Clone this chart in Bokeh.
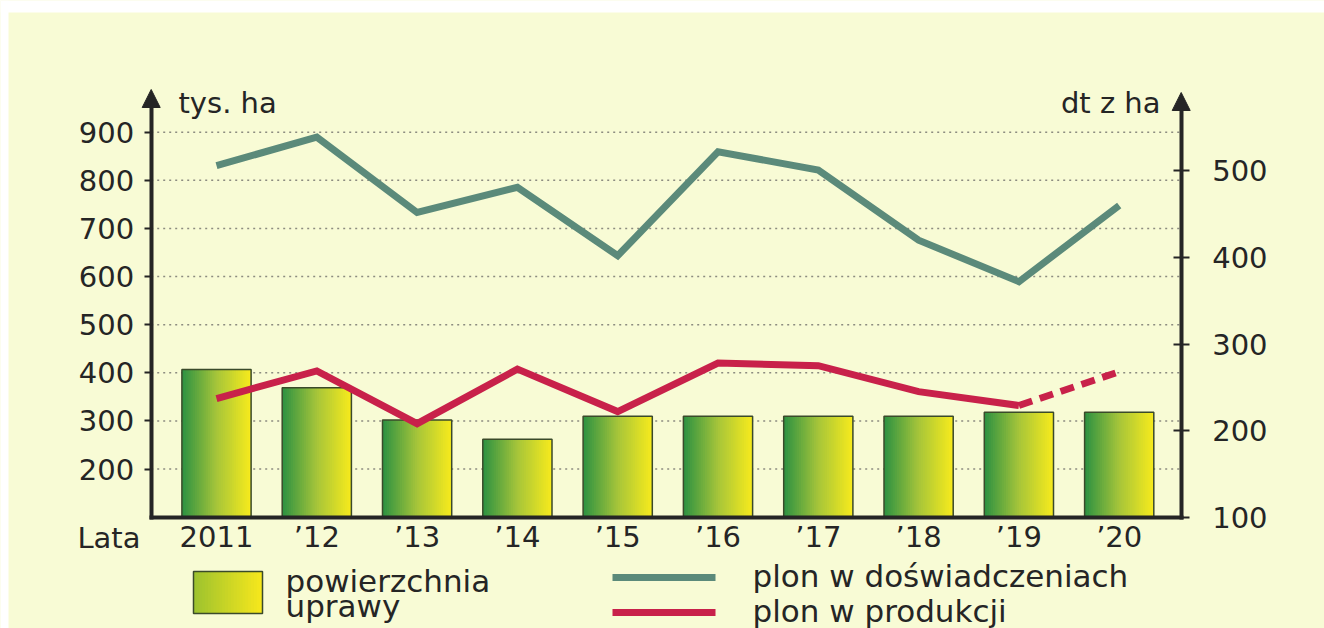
from bokeh.plotting import figure
from bokeh.models import Range1d, LinearAxis, FixedTicker, Label, Arrow, NormalHead, BoxAnnotation
from bokeh.embed import file_html
from bokeh.resources import INLINE
from bokeh.core.properties import value

# ---------------- data ----------------
years = [2011, 2012, 2013, 2014, 2015, 2016, 2017, 2018, 2019, 2020]
year_labels = ["2011", "\u201912", "\u201913", "\u201914", "\u201915",
               "\u201916", "\u201917", "\u201918", "\u201919", "\u201920"]
area = [407, 369, 302, 262, 310, 310, 310, 310, 318, 318]          # tys. ha
yield_exp = [506, 539, 452, 481, 402, 522, 501, 420, 372, 460]     # dt z ha
yield_prod = [237, 269, 208, 271, 222, 278, 275, 245, 229, 268]    # dt z ha
left_ticks = [200, 300, 400, 500, 600, 700, 800, 900]
right_ticks = [100, 200, 300, 400, 500]
legend_labels = ["powierzchnia", "uprawy", "plon w do\u015bwiadczeniach", "plon w produkcji"]

# ---------------- style ----------------
BG = "#f8fbd5"
FONT = "DejaVu Sans"
TXT = "#252525"
GREEN_LINE = "#5b8a7a"
RED_LINE = "#c8214a"
OUTLINE = "#3a4a2a"
TICK_FS = "29px"
LEG_FS = "31px"

W, H = 1324, 628

# layout helpers: canvas pixel -> data coordinates (layout only)
def dx(px):
    return 2011 + (px - 216) / 100.3

def dyL(py):
    return 100 + (516.7 - py) / 0.48125

def dyR(py):
    return 100 + (516.7 - py) / 0.8658

X0, X1 = dx(150.7), dx(1180.7)      # positions of the two value axes
BASE = 100                          # baseline of the bars (left units)


def hex2rgb(h):
    h = h.lstrip("#")
    return tuple(int(h[i:i + 2], 16) for i in (0, 2, 4))


def gradient(t, stops):
    for (t0, c0), (t1, c1) in zip(stops[:-1], stops[1:]):
        if t0 <= t <= t1:
            f = (t - t0) / (t1 - t0)
            a, b = hex2rgb(c0), hex2rgb(c1)
            return "#%02x%02x%02x" % tuple(round(a[i] + (b[i] - a[i]) * f) for i in range(3))
    return stops[-1][1]


BAR_STOPS = [(0.0, "#2c9142"), (0.5, "#a6c53a"), (1.0, "#f8eb1c")]
SWATCH_STOPS = [(0.0, "#9cc22f"), (1.0, "#f8e81c")]

# ---------------- figure ----------------
p = figure(width=W, height=H,
           x_range=Range1d(dx(0), dx(W)), y_range=Range1d(dyL(H), dyL(0)),
           x_axis_type=None, y_axis_type=None,
           output_backend="svg", toolbar_location=None, min_border=0,
           background_fill_color=BG, border_fill_color=BG,
           outline_line_color=None)
p.extra_y_ranges = {"right": Range1d(dyR(H), dyR(0))}

# white page edge (top and left)
p.add_layout(BoxAnnotation(bottom=dyL(12), fill_color="white", fill_alpha=1, line_color=None))
p.add_layout(BoxAnnotation(right=dx(8), fill_color="white", fill_alpha=1, line_color=None))

# dotted horizontal grid (left-axis ticks), between the two axes
p.segment(x0=X0, x1=X1, y0=left_ticks, y1=left_ticks,
          line_color="#8c8c80", line_width=1.5, line_dash="2 4")

# gradient bars built from thin strips
N = 32
BW = 0.69
sl, sr, st, sc = [], [], [], []
for yr, a in zip(years, area):
    left = yr - BW / 2
    sw = BW / N
    for k in range(N):
        sl.append(left + k * sw)
        sr.append(min(left + (k + 1.7) * sw, left + BW))
        st.append(a)
        sc.append(gradient((k + 0.5) / N, BAR_STOPS))
p.quad(left=sl, right=sr, top=st, bottom=BASE, fill_color=sc, line_color=None)
p.vbar(x=years, top=area, bottom=BASE, width=BW,
       fill_color=None, line_color=OUTLINE, line_width=1.5)

# lines
p.line(years, yield_exp, y_range_name="right", line_color=GREEN_LINE,
       line_width=7, line_join="miter")
p.line(years[:9], yield_prod[:9], y_range_name="right", line_color=RED_LINE,
       line_width=7, line_join="miter")
p.line(years[8:], yield_prod[8:], y_range_name="right", line_color=RED_LINE,
       line_width=7, line_dash="14 8")

# ---------------- axes ----------------
def style_axis(ax):
    ax.axis_line_width = 4
    ax.axis_line_color = TXT
    ax.major_tick_line_color = TXT
    ax.major_tick_line_width = 2
    ax.minor_tick_line_color = None
    ax.major_label_text_font = FONT
    ax.major_label_text_font_size = TICK_FS
    ax.major_label_text_color = TXT


la = LinearAxis(ticker=FixedTicker(ticks=left_ticks), fixed_location=X0,
                bounds=(dyL(518.7), dyL(100)))
style_axis(la)
la.major_tick_out = 7
la.major_tick_in = 0
la.major_label_standoff = 10
p.add_layout(la, "left")

ra = LinearAxis(y_range_name="right", ticker=FixedTicker(ticks=right_ticks),
                fixed_location=X1, bounds=(dyR(518.7), dyR(103)))
style_axis(ra)
ra.major_tick_out = 8
ra.major_tick_in = 8
ra.major_label_standoff = 23
p.add_layout(ra, "right")

ba = LinearAxis(ticker=FixedTicker(ticks=years), fixed_location=BASE,
                bounds=(dx(148.7), dx(1182.7)))
style_axis(ba)
ba.major_label_overrides = {y: l for y, l in zip(years, year_labels)}
ba.major_tick_line_color = None
ba.major_tick_out = 0
ba.major_tick_in = 0
ba.major_label_standoff = 3
p.add_layout(ba, "below")

# axis arrows
p.add_layout(Arrow(end=NormalHead(size=18, fill_color=TXT, line_color=TXT),
                   x_start=X0, y_start=dyL(120), x_end=X0, y_end=dyL(89), line_alpha=0))
p.add_layout(Arrow(end=NormalHead(size=18, fill_color=TXT, line_color=TXT),
                   x_start=X1, y_start=dyR(123), x_end=X1, y_end=dyR(92),
                   y_range_name="right", line_alpha=0))

# axis titles
p.add_layout(Label(x=dx(178), y=dyL(102), text="tys. ha", text_align="left",
                   text_baseline="middle", text_font=FONT,
                   text_font_size=TICK_FS, text_color=TXT))
p.add_layout(Label(x=dx(1160), y=dyL(102), text="dt z ha", text_align="right",
                   text_baseline="middle", text_font=FONT,
                   text_font_size=TICK_FS, text_color=TXT))
p.add_layout(Label(x=dx(140), y=dyL(537), text="Lata", text_align="right",
                   text_baseline="middle", text_font=FONT,
                   text_font_size=TICK_FS, text_color=TXT))

# ---------------- legend ----------------
SW_L, SW_R, SW_T, SW_B = dx(193), dx(262), dyL(571), dyL(613)
M = 24
ql, qr, qc = [], [], []
sw = (SW_R - SW_L) / M
for k in range(M):
    ql.append(SW_L + k * sw)
    qr.append(min(SW_L + (k + 1.7) * sw, SW_R))
    qc.append(gradient((k + 0.5) / M, SWATCH_STOPS))
p.quad(left=ql, right=qr, top=SW_T, bottom=SW_B, fill_color=qc, line_color=None)
p.quad(left=SW_L, right=SW_R, top=SW_T, bottom=SW_B, fill_color=None,
       line_color=OUTLINE, line_width=1.5)

p.segment(x0=[dx(612)] * 2, x1=[dx(715)] * 2, y0=[dyL(577), dyL(612)],
          y1=[dyL(577), dyL(612)], line_color=[GREEN_LINE, RED_LINE], line_width=7)

p.text(x=[dx(285), dx(285), dx(752), dx(752)],
       y=[dyL(580), dyL(605), dyL(575), dyL(610)],
       text=legend_labels,
       text_font=value(FONT), text_font_size=LEG_FS, text_color=TXT,
       text_baseline="middle", text_align="left")

open("out.html", "w").write(file_html(p, INLINE))
